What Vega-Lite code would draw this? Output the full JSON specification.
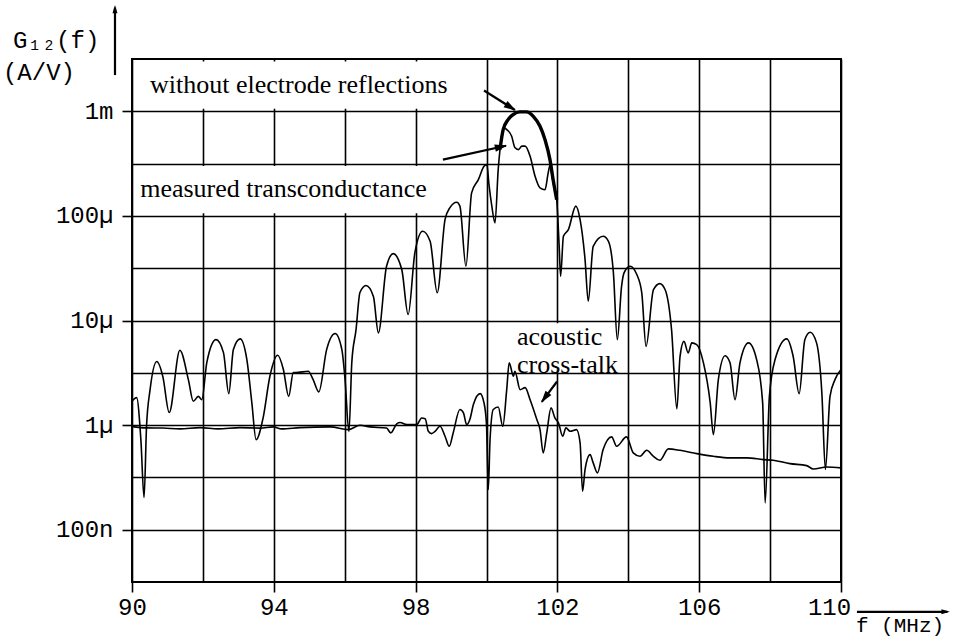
{
  "$schema": "https://vega.github.io/schema/vega-lite/v6.json",
  "width": 709,
  "height": 523,
  "autosize": {"type": "none"},
  "padding": {"left": 132, "top": 59, "right": 122, "bottom": 58},
  "background": "white",
  "config": {
    "view": {"stroke": "black", "strokeWidth": 2, "fill": "white"},
    "axis": {"domain": false, "grid": true, "gridColor": "black", "gridOpacity": 1, "gridWidth": 1.6, "tickColor": "black", "tickWidth": 1.6, "tickSize": 10, "labelColor": "black", "labelFont": "Liberation Mono", "labelFontSize": 24, "labelOverlap": false}
  },
  "datasets": {
    "boxes": [
      {"f": 90.06, "f2": 99.88, "g": 0.00106, "g2": 0.003},
      {"f": 90.06, "f2": 98.8, "g": 0.000106, "g2": 0.0003},
      {"f": 100.8, "f2": 103.85, "g": 3.4e-6, "g2": 9.4e-6}
    ],
    "curves": [
      {"series": "measured", "f": 90.0, "g": 1.69e-6},
      {"series": "measured", "f": 90.13, "g": 1.83e-6},
      {"series": "measured", "f": 90.25, "g": 7.3e-7},
      {"series": "measured", "f": 90.34, "g": 2.03e-7},
      {"series": "measured", "f": 90.41, "g": 9.75e-7},
      {"series": "measured", "f": 90.51, "g": 2.18e-6},
      {"series": "measured", "f": 90.7, "g": 4.05e-6},
      {"series": "measured", "f": 90.87, "g": 2.91e-6},
      {"series": "measured", "f": 91.05, "g": 1.32e-6},
      {"series": "measured", "f": 91.35, "g": 5.19e-6},
      {"series": "measured", "f": 91.59, "g": 2.72e-6},
      {"series": "measured", "f": 91.73, "g": 1.69e-6},
      {"series": "measured", "f": 91.87, "g": 1.88e-6},
      {"series": "measured", "f": 91.97, "g": 1.75e-6},
      {"series": "measured", "f": 92.11, "g": 3.96e-6},
      {"series": "measured", "f": 92.37, "g": 6.56e-6},
      {"series": "measured", "f": 92.58, "g": 4.93e-6},
      {"series": "measured", "f": 92.73, "g": 2.0e-6},
      {"series": "measured", "f": 92.86, "g": 5.27e-6},
      {"series": "measured", "f": 93.05, "g": 6.67e-6},
      {"series": "measured", "f": 93.24, "g": 4.23e-6},
      {"series": "measured", "f": 93.38, "g": 1.64e-6},
      {"series": "measured", "f": 93.5, "g": 7.26e-7},
      {"series": "measured", "f": 93.7, "g": 1.18e-6},
      {"series": "measured", "f": 93.89, "g": 2.93e-6},
      {"series": "measured", "f": 94.11, "g": 4.65e-6},
      {"series": "measured", "f": 94.27, "g": 3.4e-6},
      {"series": "measured", "f": 94.42, "g": 1.88e-6},
      {"series": "measured", "f": 94.55, "g": 3.18e-6},
      {"series": "measured", "f": 94.69, "g": 3.19e-6},
      {"series": "measured", "f": 94.97, "g": 3.27e-6},
      {"series": "measured", "f": 95.11, "g": 2.72e-6},
      {"series": "measured", "f": 95.27, "g": 2.08e-6},
      {"series": "measured", "f": 95.49, "g": 5.27e-6},
      {"series": "measured", "f": 95.73, "g": 7.5e-6},
      {"series": "measured", "f": 95.92, "g": 5.27e-6},
      {"series": "measured", "f": 96.01, "g": 2.72e-6},
      {"series": "measured", "f": 96.12, "g": 8.67e-7},
      {"series": "measured", "f": 96.2, "g": 3.96e-6},
      {"series": "measured", "f": 96.32, "g": 8.18e-6},
      {"series": "measured", "f": 96.43, "g": 1.85e-5},
      {"series": "measured", "f": 96.6, "g": 2.16e-5},
      {"series": "measured", "f": 96.81, "g": 1.7e-5},
      {"series": "measured", "f": 96.95, "g": 7.61e-6},
      {"series": "measured", "f": 97.18, "g": 3.3e-5},
      {"series": "measured", "f": 97.37, "g": 4.36e-5},
      {"series": "measured", "f": 97.61, "g": 3.07e-5},
      {"series": "measured", "f": 97.79, "g": 1.14e-5},
      {"series": "measured", "f": 97.98, "g": 4.46e-5},
      {"series": "measured", "f": 98.2, "g": 7.13e-5},
      {"series": "measured", "f": 98.41, "g": 5.72e-5},
      {"series": "measured", "f": 98.61, "g": 1.84e-5},
      {"series": "measured", "f": 98.83, "g": 9.22e-5},
      {"series": "measured", "f": 98.97, "g": 0.00012},
      {"series": "measured", "f": 99.16, "g": 0.000135},
      {"series": "measured", "f": 99.25, "g": 0.000124},
      {"series": "measured", "f": 99.42, "g": 3.3e-5},
      {"series": "measured", "f": 99.58, "g": 0.000166},
      {"series": "measured", "f": 99.77, "g": 0.000222},
      {"series": "measured", "f": 99.93, "g": 0.000298},
      {"series": "measured", "f": 100.01, "g": 0.000309},
      {"series": "measured", "f": 100.07, "g": 0.000199},
      {"series": "measured", "f": 100.15, "g": 0.000124},
      {"series": "measured", "f": 100.24, "g": 8.57e-5},
      {"series": "measured", "f": 100.33, "g": 0.000277},
      {"series": "measured", "f": 100.43, "g": 0.000577},
      {"series": "measured", "f": 100.49, "g": 0.000698},
      {"series": "measured", "f": 100.57, "g": 0.000668},
      {"series": "measured", "f": 100.71, "g": 0.000577},
      {"series": "measured", "f": 100.8, "g": 0.00045},
      {"series": "measured", "f": 100.9, "g": 0.00043},
      {"series": "measured", "f": 101.0, "g": 0.000465},
      {"series": "measured", "f": 101.09, "g": 0.000465},
      {"series": "measured", "f": 101.23, "g": 0.000371},
      {"series": "measured", "f": 101.37, "g": 0.000239},
      {"series": "measured", "f": 101.51, "g": 0.000185},
      {"series": "measured", "f": 101.65, "g": 0.000178},
      {"series": "measured", "f": 101.74, "g": 0.000258},
      {"series": "measured", "f": 101.79, "g": 0.000303},
      {"series": "measured", "f": 101.88, "g": 0.000207},
      {"series": "measured", "f": 101.98, "g": 0.000143},
      {"series": "measured", "f": 102.05, "g": 5.12e-5},
      {"series": "measured", "f": 102.09, "g": 2.65e-5},
      {"series": "measured", "f": 102.17, "g": 6.38e-5},
      {"series": "measured", "f": 102.31, "g": 7.4e-5},
      {"series": "measured", "f": 102.52, "g": 0.000124},
      {"series": "measured", "f": 102.64, "g": 9.22e-5},
      {"series": "measured", "f": 102.78, "g": 3.82e-5},
      {"series": "measured", "f": 102.87, "g": 1.53e-5},
      {"series": "measured", "f": 103.01, "g": 5.12e-5},
      {"series": "measured", "f": 103.29, "g": 6.38e-5},
      {"series": "measured", "f": 103.44, "g": 5.72e-5},
      {"series": "measured", "f": 103.58, "g": 2.85e-5},
      {"series": "measured", "f": 103.69, "g": 6.56e-6},
      {"series": "measured", "f": 103.81, "g": 2.12e-5},
      {"series": "measured", "f": 103.88, "g": 2.85e-5},
      {"series": "measured", "f": 104.05, "g": 3.3e-5},
      {"series": "measured", "f": 104.24, "g": 2.75e-5},
      {"series": "measured", "f": 104.38, "g": 1.84e-5},
      {"series": "measured", "f": 104.5, "g": 5.66e-6},
      {"series": "measured", "f": 104.71, "g": 1.97e-5},
      {"series": "measured", "f": 104.89, "g": 2.25e-5},
      {"series": "measured", "f": 105.04, "g": 1.97e-5},
      {"series": "measured", "f": 105.22, "g": 8.18e-6},
      {"series": "measured", "f": 105.37, "g": 1.43e-6},
      {"series": "measured", "f": 105.46, "g": 4.55e-6},
      {"series": "measured", "f": 105.57, "g": 6.32e-6},
      {"series": "measured", "f": 105.69, "g": 4.9e-6},
      {"series": "measured", "f": 105.79, "g": 6.11e-6},
      {"series": "measured", "f": 105.93, "g": 5.89e-6},
      {"series": "measured", "f": 106.12, "g": 3.94e-6},
      {"series": "measured", "f": 106.31, "g": 1.64e-6},
      {"series": "measured", "f": 106.4, "g": 8.11e-7},
      {"series": "measured", "f": 106.54, "g": 2.72e-6},
      {"series": "measured", "f": 106.73, "g": 4.61e-6},
      {"series": "measured", "f": 106.87, "g": 3.94e-6},
      {"series": "measured", "f": 107.01, "g": 1.75e-6},
      {"series": "measured", "f": 107.15, "g": 3.94e-6},
      {"series": "measured", "f": 107.39, "g": 6.11e-6},
      {"series": "measured", "f": 107.62, "g": 4.23e-6},
      {"series": "measured", "f": 107.79, "g": 1.63e-6},
      {"series": "measured", "f": 107.86, "g": 1.8e-7},
      {"series": "measured", "f": 107.98, "g": 1.88e-6},
      {"series": "measured", "f": 108.14, "g": 4.23e-6},
      {"series": "measured", "f": 108.47, "g": 6.67e-6},
      {"series": "measured", "f": 108.65, "g": 4.55e-6},
      {"series": "measured", "f": 108.82, "g": 2.0e-6},
      {"series": "measured", "f": 108.98, "g": 6.56e-6},
      {"series": "measured", "f": 109.13, "g": 7.71e-6},
      {"series": "measured", "f": 109.31, "g": 6.11e-6},
      {"series": "measured", "f": 109.46, "g": 2.03e-6},
      {"series": "measured", "f": 109.56, "g": 3.76e-7},
      {"series": "measured", "f": 109.69, "g": 1.88e-6},
      {"series": "measured", "f": 109.83, "g": 2.72e-6},
      {"series": "measured", "f": 110.0, "g": 3.4e-6},
      {"series": "crosstalk", "f": 90.0, "g": 9.68e-7},
      {"series": "crosstalk", "f": 90.41, "g": 9.4e-7},
      {"series": "crosstalk", "f": 90.87, "g": 9.37e-7},
      {"series": "crosstalk", "f": 91.35, "g": 9.2e-7},
      {"series": "crosstalk", "f": 91.92, "g": 9.46e-7},
      {"series": "crosstalk", "f": 92.43, "g": 9.2e-7},
      {"series": "crosstalk", "f": 93.05, "g": 9.46e-7},
      {"series": "crosstalk", "f": 93.61, "g": 9.36e-7},
      {"series": "crosstalk", "f": 93.99, "g": 9.61e-7},
      {"series": "crosstalk", "f": 94.22, "g": 9.2e-7},
      {"series": "crosstalk", "f": 94.74, "g": 9.46e-7},
      {"series": "crosstalk", "f": 95.59, "g": 9.61e-7},
      {"series": "crosstalk", "f": 96.1, "g": 9.06e-7},
      {"series": "crosstalk", "f": 96.43, "g": 9.96e-7},
      {"series": "crosstalk", "f": 96.71, "g": 9.61e-7},
      {"series": "crosstalk", "f": 97.18, "g": 9.37e-7},
      {"series": "crosstalk", "f": 97.3, "g": 8.42e-7},
      {"series": "crosstalk", "f": 97.47, "g": 1.03e-6},
      {"series": "crosstalk", "f": 97.56, "g": 1.06e-6},
      {"series": "crosstalk", "f": 97.75, "g": 1.01e-6},
      {"series": "crosstalk", "f": 98.03, "g": 1.01e-6},
      {"series": "crosstalk", "f": 98.17, "g": 1.17e-6},
      {"series": "crosstalk", "f": 98.27, "g": 1.15e-6},
      {"series": "crosstalk", "f": 98.36, "g": 8.72e-7},
      {"series": "crosstalk", "f": 98.45, "g": 8.29e-7},
      {"series": "crosstalk", "f": 98.55, "g": 8.72e-7},
      {"series": "crosstalk", "f": 98.69, "g": 9.75e-7},
      {"series": "crosstalk", "f": 98.83, "g": 7.82e-7},
      {"series": "crosstalk", "f": 98.95, "g": 6.27e-7},
      {"series": "crosstalk", "f": 99.06, "g": 8.42e-7},
      {"series": "crosstalk", "f": 99.25, "g": 1.41e-6},
      {"series": "crosstalk", "f": 99.35, "g": 1.31e-6},
      {"series": "crosstalk", "f": 99.44, "g": 1.01e-6},
      {"series": "crosstalk", "f": 99.53, "g": 1.13e-6},
      {"series": "crosstalk", "f": 99.63, "g": 1.57e-6},
      {"series": "crosstalk", "f": 99.82, "g": 2.0e-6},
      {"series": "crosstalk", "f": 99.93, "g": 1.63e-6},
      {"series": "crosstalk", "f": 100.0, "g": 1.01e-6},
      {"series": "crosstalk", "f": 100.05, "g": 2.42e-7},
      {"series": "crosstalk", "f": 100.1, "g": 7.26e-7},
      {"series": "crosstalk", "f": 100.19, "g": 1.41e-6},
      {"series": "crosstalk", "f": 100.33, "g": 1.49e-6},
      {"series": "crosstalk", "f": 100.46, "g": 9.75e-7},
      {"series": "crosstalk", "f": 100.57, "g": 2.18e-6},
      {"series": "crosstalk", "f": 100.64, "g": 3.94e-6},
      {"series": "crosstalk", "f": 100.76, "g": 2.93e-6},
      {"series": "crosstalk", "f": 100.8, "g": 3.27e-6},
      {"series": "crosstalk", "f": 100.95, "g": 2.18e-6},
      {"series": "crosstalk", "f": 101.09, "g": 2.28e-6},
      {"series": "crosstalk", "f": 101.23, "g": 1.75e-6},
      {"series": "crosstalk", "f": 101.42, "g": 1.13e-6},
      {"series": "crosstalk", "f": 101.51, "g": 9.06e-7},
      {"series": "crosstalk", "f": 101.6, "g": 5.42e-7},
      {"series": "crosstalk", "f": 101.7, "g": 8.42e-7},
      {"series": "crosstalk", "f": 101.82, "g": 1.46e-6},
      {"series": "crosstalk", "f": 101.93, "g": 1.17e-6},
      {"series": "crosstalk", "f": 102.03, "g": 1.05e-6},
      {"series": "crosstalk", "f": 102.15, "g": 7.82e-7},
      {"series": "crosstalk", "f": 102.24, "g": 9.4e-7},
      {"series": "crosstalk", "f": 102.36, "g": 8.72e-7},
      {"series": "crosstalk", "f": 102.54, "g": 9.06e-7},
      {"series": "crosstalk", "f": 102.64, "g": 6.76e-7},
      {"series": "crosstalk", "f": 102.71, "g": 2.33e-7},
      {"series": "crosstalk", "f": 102.78, "g": 3.76e-7},
      {"series": "crosstalk", "f": 102.92, "g": 5.22e-7},
      {"series": "crosstalk", "f": 103.01, "g": 4.35e-7},
      {"series": "crosstalk", "f": 103.13, "g": 3.49e-7},
      {"series": "crosstalk", "f": 103.29, "g": 5.83e-7},
      {"series": "crosstalk", "f": 103.53, "g": 7.71e-7},
      {"series": "crosstalk", "f": 103.67, "g": 6.27e-7},
      {"series": "crosstalk", "f": 103.95, "g": 7.71e-7},
      {"series": "crosstalk", "f": 104.14, "g": 5.42e-7},
      {"series": "crosstalk", "f": 104.33, "g": 5.03e-7},
      {"series": "crosstalk", "f": 104.52, "g": 5.74e-7},
      {"series": "crosstalk", "f": 104.71, "g": 5.03e-7},
      {"series": "crosstalk", "f": 104.89, "g": 4.61e-7},
      {"series": "crosstalk", "f": 105.13, "g": 5.92e-7},
      {"series": "crosstalk", "f": 105.46, "g": 5.74e-7},
      {"series": "crosstalk", "f": 105.93, "g": 5.34e-7},
      {"series": "crosstalk", "f": 106.4, "g": 5.03e-7},
      {"series": "crosstalk", "f": 106.87, "g": 4.86e-7},
      {"series": "crosstalk", "f": 107.34, "g": 4.86e-7},
      {"series": "crosstalk", "f": 107.81, "g": 4.68e-7},
      {"series": "crosstalk", "f": 108.09, "g": 4.61e-7},
      {"series": "crosstalk", "f": 108.56, "g": 4.28e-7},
      {"series": "crosstalk", "f": 109.03, "g": 4.1e-7},
      {"series": "crosstalk", "f": 109.22, "g": 3.81e-7},
      {"series": "crosstalk", "f": 109.6, "g": 3.98e-7},
      {"series": "crosstalk", "f": 110.0, "g": 3.9e-7}
    ],
    "noreflect": [
      {"f": 100.38, "g": 0.00043},
      {"f": 100.47, "g": 0.000668},
      {"f": 100.61, "g": 0.000833},
      {"f": 100.75, "g": 0.000929},
      {"f": 100.94, "g": 0.000987},
      {"f": 101.13, "g": 0.000987},
      {"f": 101.32, "g": 0.000896},
      {"f": 101.51, "g": 0.000719},
      {"f": 101.65, "g": 0.000536},
      {"f": 101.79, "g": 0.000345},
      {"f": 101.88, "g": 0.000222},
      {"f": 101.98, "g": 0.000143}
    ],
    "arrows": [
      {"id": "a1", "f": 99.93, "g": 0.00158, "f2": 100.8, "g2": 0.00103},
      {"id": "a2", "f": 98.77, "g": 0.000345, "f2": 100.55, "g2": 0.000468},
      {"id": "a3", "f": 101.99, "g": 2.61e-6, "f2": 101.56, "g2": 1.67e-6},
      {"id": "ya", "f": 89.52, "g": 0.00222, "f2": 89.52, "g2": 0.0098},
      {"id": "xa", "f": 110.45, "g": 1.64e-8, "f2": 113.0, "g2": 1.64e-8}
    ],
    "heads": [
      {"id": "a1", "f": 100.83, "g": 0.001016},
      {"id": "a2", "f": 100.58, "g": 0.00047},
      {"id": "a3", "f": 101.54, "g": 1.64e-6},
      {"id": "ya", "f": 89.52, "g": 0.0104},
      {"id": "xa", "f": 113.07, "g": 1.64e-8}
    ],
    "notes": [
      {"txt": "without electrode reflections", "f": 90.51, "g": 0.0015},
      {"txt": "measured transconductance", "f": 90.23, "g": 0.000152},
      {"txt": "acoustic\ncross-talk", "f": 100.86, "g": 5.83e-6}
    ],
    "axistexts": [
      {"txt": "G₁₂(f)", "f": 86.64, "g": 0.00403},
      {"txt": "(A/V)", "f": 86.36, "g": 0.00199}
    ],
    "unittext": [
      {"txt": "f (MHz)", "f": 110.42, "g": 1.05e-8}
    ]
  },
  "layer": [
    {
      "data": {"name": "boxes"},
      "mark": {"type": "rect", "fill": "white", "strokeWidth": 0},
      "encoding": {
        "x": {"field": "f", "type": "quantitative", "title": null,
          "scale": {"domain": [90, 110], "nice": false, "zero": false},
          "axis": {"values": [90, 92, 94, 96, 98, 100, 102, 104, 106, 108, 110],
            "labelExpr": "datum.value % 4 == 0 ? '' : datum.label",
            "tickOpacity": {"condition": {"test": "datum.value % 4 == 0", "value": 0}, "value": 1},
            "labelOffset": {"condition": {"test": "datum.value == 110", "value": -12}, "value": 0},
            "labelFlush": false, "labelPadding": 3, "title": null}},
        "x2": {"field": "f2"},
        "y": {"field": "g", "type": "quantitative", "title": null,
          "scale": {"type": "log", "domain": [3.1623e-8, 0.0031623], "nice": false},
          "axis": {"values": [1e-7, 3.1623e-7, 1e-6, 3.1623e-6, 1e-5, 3.1623e-5, 0.0001, 0.00031623, 0.001],
            "labelExpr": "round(log(datum.value)/LN10*2) % 2 != 0 ? '' : round(log(datum.value)/LN10) == -3 ? '1m' : round(log(datum.value)/LN10) == -4 ? '100µ' : round(log(datum.value)/LN10) == -5 ? '10µ' : round(log(datum.value)/LN10) == -6 ? '1µ' : '100n'",
            "tickOpacity": {"condition": {"test": "round(log(datum.value)/LN10*2) % 2 != 0", "value": 0}, "value": 1},
            "labelPadding": 9, "title": null}},
        "y2": {"field": "g2"}
      }
    },
    {
      "data": {"name": "curves"},
      "mark": {"type": "line", "interpolate": "monotone", "strokeWidth": 1.6, "color": "black"},
      "encoding": {
        "x": {"field": "f", "type": "quantitative", "title": null, "scale": {"domain": [90, 110], "nice": false, "zero": false}},
        "y": {"field": "g", "type": "quantitative", "title": null, "scale": {"type": "log", "domain": [3.1623e-8, 0.0031623], "nice": false}},
        "detail": {"field": "series"}
      }
    },
    {
      "data": {"name": "noreflect"},
      "mark": {"type": "line", "interpolate": "monotone", "strokeWidth": 3.4, "color": "black"},
      "encoding": {
        "x": {"field": "f", "type": "quantitative", "title": null, "scale": {"domain": [90, 110], "nice": false, "zero": false}},
        "y": {"field": "g", "type": "quantitative", "title": null, "scale": {"type": "log", "domain": [3.1623e-8, 0.0031623], "nice": false}}
      }
    },
    {
      "data": {"name": "arrows"},
      "mark": {"type": "rule", "strokeWidth": 2.2, "color": "black"},
      "encoding": {
        "x": {"field": "f", "type": "quantitative", "title": null, "scale": {"domain": [90, 110], "nice": false, "zero": false}},
        "y": {"field": "g", "type": "quantitative", "title": null, "scale": {"type": "log", "domain": [3.1623e-8, 0.0031623], "nice": false}},
        "x2": {"field": "f2"},
        "y2": {"field": "g2"}
      }
    },
    {
      "data": {"name": "heads"},
      "transform": [{"filter": "datum.id == 'a1'"}],
      "mark": {"type": "point", "shape": "M0,0L-2,-0.6L-2,0.6Z", "size": 150, "filled": true, "color": "black", "opacity": 1, "angle": 32},
      "encoding": {
        "x": {"field": "f", "type": "quantitative", "title": null, "scale": {"domain": [90, 110], "nice": false, "zero": false}},
        "y": {"field": "g", "type": "quantitative", "title": null, "scale": {"type": "log", "domain": [3.1623e-8, 0.0031623], "nice": false}}
      }
    },
    {
      "data": {"name": "heads"},
      "transform": [{"filter": "datum.id == 'a2'"}],
      "mark": {"type": "point", "shape": "M0,0L-2,-0.6L-2,0.6Z", "size": 150, "filled": true, "color": "black", "opacity": 1, "angle": -12},
      "encoding": {
        "x": {"field": "f", "type": "quantitative", "title": null, "scale": {"domain": [90, 110], "nice": false, "zero": false}},
        "y": {"field": "g", "type": "quantitative", "title": null, "scale": {"type": "log", "domain": [3.1623e-8, 0.0031623], "nice": false}}
      }
    },
    {
      "data": {"name": "heads"},
      "transform": [{"filter": "datum.id == 'a3'"}],
      "mark": {"type": "point", "shape": "M0,0L-2,-0.6L-2,0.6Z", "size": 150, "filled": true, "color": "black", "opacity": 1, "angle": 127},
      "encoding": {
        "x": {"field": "f", "type": "quantitative", "title": null, "scale": {"domain": [90, 110], "nice": false, "zero": false}},
        "y": {"field": "g", "type": "quantitative", "title": null, "scale": {"type": "log", "domain": [3.1623e-8, 0.0031623], "nice": false}}
      }
    },
    {
      "data": {"name": "heads"},
      "transform": [{"filter": "datum.id == 'ya'"}],
      "mark": {"type": "point", "shape": "M0,0L-2,-0.6L-2,0.6Z", "size": 70, "filled": true, "color": "black", "opacity": 1, "angle": -90},
      "encoding": {
        "x": {"field": "f", "type": "quantitative", "title": null, "scale": {"domain": [90, 110], "nice": false, "zero": false}},
        "y": {"field": "g", "type": "quantitative", "title": null, "scale": {"type": "log", "domain": [3.1623e-8, 0.0031623], "nice": false}}
      }
    },
    {
      "data": {"name": "heads"},
      "transform": [{"filter": "datum.id == 'xa'"}],
      "mark": {"type": "point", "shape": "M0,0L-2,-0.6L-2,0.6Z", "size": 70, "filled": true, "color": "black", "opacity": 1, "angle": 0},
      "encoding": {
        "x": {"field": "f", "type": "quantitative", "title": null, "scale": {"domain": [90, 110], "nice": false, "zero": false}},
        "y": {"field": "g", "type": "quantitative", "title": null, "scale": {"type": "log", "domain": [3.1623e-8, 0.0031623], "nice": false}}
      }
    },
    {
      "data": {"name": "notes"},
      "mark": {"type": "text", "align": "left", "baseline": "alphabetic", "font": "Liberation Serif", "fontSize": 26, "lineBreak": "\n", "lineHeight": 28, "color": "black"},
      "encoding": {
        "x": {"field": "f", "type": "quantitative", "title": null, "scale": {"domain": [90, 110], "nice": false, "zero": false}},
        "y": {"field": "g", "type": "quantitative", "title": null, "scale": {"type": "log", "domain": [3.1623e-8, 0.0031623], "nice": false}},
        "text": {"field": "txt"}
      }
    },
    {
      "data": {"name": "axistexts"},
      "mark": {"type": "text", "align": "left", "baseline": "alphabetic", "font": "Liberation Mono", "fontSize": 24, "color": "black"},
      "encoding": {
        "x": {"field": "f", "type": "quantitative", "title": null, "scale": {"domain": [90, 110], "nice": false, "zero": false}},
        "y": {"field": "g", "type": "quantitative", "title": null, "scale": {"type": "log", "domain": [3.1623e-8, 0.0031623], "nice": false}},
        "text": {"field": "txt"}
      }
    },
    {
      "data": {"name": "unittext"},
      "mark": {"type": "text", "align": "left", "baseline": "alphabetic", "font": "Liberation Mono", "fontSize": 21, "color": "black"},
      "encoding": {
        "x": {"field": "f", "type": "quantitative", "title": null, "scale": {"domain": [90, 110], "nice": false, "zero": false}},
        "y": {"field": "g", "type": "quantitative", "title": null, "scale": {"type": "log", "domain": [3.1623e-8, 0.0031623], "nice": false}},
        "text": {"field": "txt"}
      }
    }
  ]
}
